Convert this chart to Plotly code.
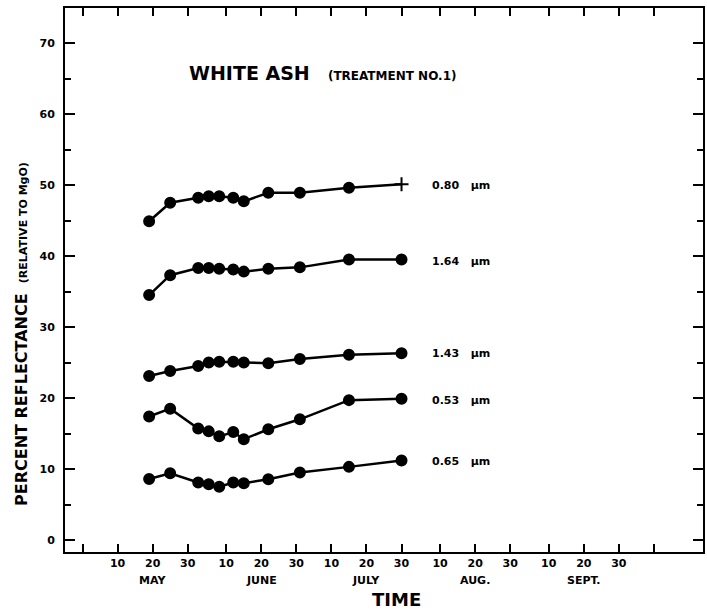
import plotly.graph_objects as go

# ---- data ----
dates = ["2001-05-19", "2001-05-25", "2001-06-02", "2001-06-05", "2001-06-08",
         "2001-06-12", "2001-06-15", "2001-06-22", "2001-07-01", "2001-07-15",
         "2001-07-30"]
r080 = [44.9, 47.5, 48.2, 48.4, 48.4, 48.2, 47.7, 48.9, 48.9, 49.6, 50.1]
r164 = [34.5, 37.3, 38.3, 38.3, 38.2, 38.1, 37.8, 38.2, 38.4, 39.5, 39.5]
r143 = [23.1, 23.8, 24.5, 25.0, 25.1, 25.1, 25.0, 24.9, 25.5, 26.1, 26.3]
r053 = [17.4, 18.5, 15.7, 15.3, 14.6, 15.2, 14.2, 15.6, 17.0, 19.7, 19.9]
r065 = [8.6, 9.4, 8.1, 7.85, 7.5, 8.1, 8.0, 8.55, 9.5, 10.3, 11.2]

series_names = ["0.80 \u00b5m", "1.64 \u00b5m", "1.43 \u00b5m", "0.53 \u00b5m", "0.65 \u00b5m"]
label_y = [50.0, 39.2, 26.2, 19.7, 11.0]
label_x = "2001-08-07"

tick_dates = ["2001-04-30", "2001-05-10", "2001-05-20", "2001-05-30",
              "2001-06-10", "2001-06-20", "2001-06-30",
              "2001-07-10", "2001-07-20", "2001-07-30",
              "2001-08-10", "2001-08-20", "2001-08-30",
              "2001-09-10", "2001-09-20", "2001-09-30", "2001-10-10"]
tick_text = ["", "10", "20", "30", "10", "20", "30", "10", "20", "30",
             "10", "20", "30", "10", "20", "30", ""]
months = ["MAY", "JUNE", "JULY", "AUG.", "SEPT."]
month_pos = ["2001-05-20", "2001-06-20", "2001-07-20", "2001-08-20", "2001-09-20"]
y_ticks = [0, 10, 20, 30, 40, 50, 60, 70]

FONT = "DejaVu Sans"

fig = go.Figure()
all_series = [r080, r164, r143, r053, r065]
for i, ys in enumerate(all_series):
    symbols = ["circle"] * len(ys)
    if i == 0:
        symbols[-1] = "cross-thin"
    fig.add_trace(go.Scatter(
        x=dates, y=ys, mode="lines+markers", opacity=1,
        line=dict(color="#000000", width=2.5),
        marker=dict(symbol=symbols, size=10, opacity=1,
                    color="#000000", line=dict(color="#000000", width=2)),
        showlegend=False, hoverinfo="skip"))

annotations = []
for name, yv in zip(series_names, label_y):
    annotations.append(dict(x=label_x, y=yv, xref="x", yref="y",
                            text="<b>" + name.replace(" ", "&nbsp;&nbsp;&nbsp;") + "</b>",
                            showarrow=False, xanchor="left", yanchor="middle",
                            font=dict(family=FONT, size=11, color="black")))
for m, xp in zip(months, month_pos):
    annotations.append(dict(x=xp, y=0, xref="x", yref="paper", text="<b>" + m + "</b>",
                            showarrow=False, xanchor="center", yanchor="middle", yshift=-28,
                            font=dict(family=FONT, size=11, color="black")))
annotations.append(dict(x=0.519, y=0, xref="paper", yref="paper", text="<b>TIME</b>",
                        showarrow=False, xanchor="center", yanchor="middle", yshift=-47,
                        font=dict(family=FONT, size=18, color="black")))
annotations.append(dict(x=0.1906, y=0.8805, xref="paper", yref="paper",
                        text="<b>WHITE ASH</b>&nbsp;&nbsp;&nbsp;<span style='font-size:12px'><b>(TREATMENT NO.1)</b></span>",
                        showarrow=False, xanchor="left", yanchor="middle",
                        font=dict(family=FONT, size=19, color="black")))
annotations.append(dict(x=-0.068, y=0.40, xref="paper", yref="paper", textangle=-90,
                        text="<b>PERCENT REFLECTANCE</b>&nbsp;&nbsp;<span style='font-size:11px'><b>(RELATIVE TO MgO)</b></span>",
                        showarrow=False, xanchor="center", yanchor="middle",
                        font=dict(family=FONT, size=16, color="black")))

fig.update_layout(
    width=707, height=611,
    margin=dict(l=65, r=2, t=8, b=59),
    paper_bgcolor="white", plot_bgcolor="white",
    annotations=annotations,
    xaxis=dict(type="date", range=["2001-04-25", "2001-10-24"],
               tickmode="array", tickvals=tick_dates,
               ticktext=["<b>%s</b>" % t if t else "" for t in tick_text],
               ticks="inside", ticklen=8, tickwidth=2, tickcolor="black",
               showline=True, linecolor="black", linewidth=2, mirror="ticks",
               showgrid=False, zeroline=False,
               tickfont=dict(family=FONT, size=11, color="black")),
    yaxis=dict(range=[-1.69, 74.93], tickmode="array",
               tickvals=y_ticks,
               ticktext=["<b>%d</b>" % v for v in y_ticks],
               ticks="inside", ticklen=10, tickwidth=2, tickcolor="black",
               minor=dict(dtick=5, tick0=0, ticks="inside", ticklen=6, tickwidth=2, tickcolor="black"),
               showline=True, linecolor="black", linewidth=2, mirror="ticks",
               showgrid=False, zeroline=False, ticklabelstandoff=6,
               tickfont=dict(family=FONT, size=11, color="black")),
)

fig.write_html("out.html")
